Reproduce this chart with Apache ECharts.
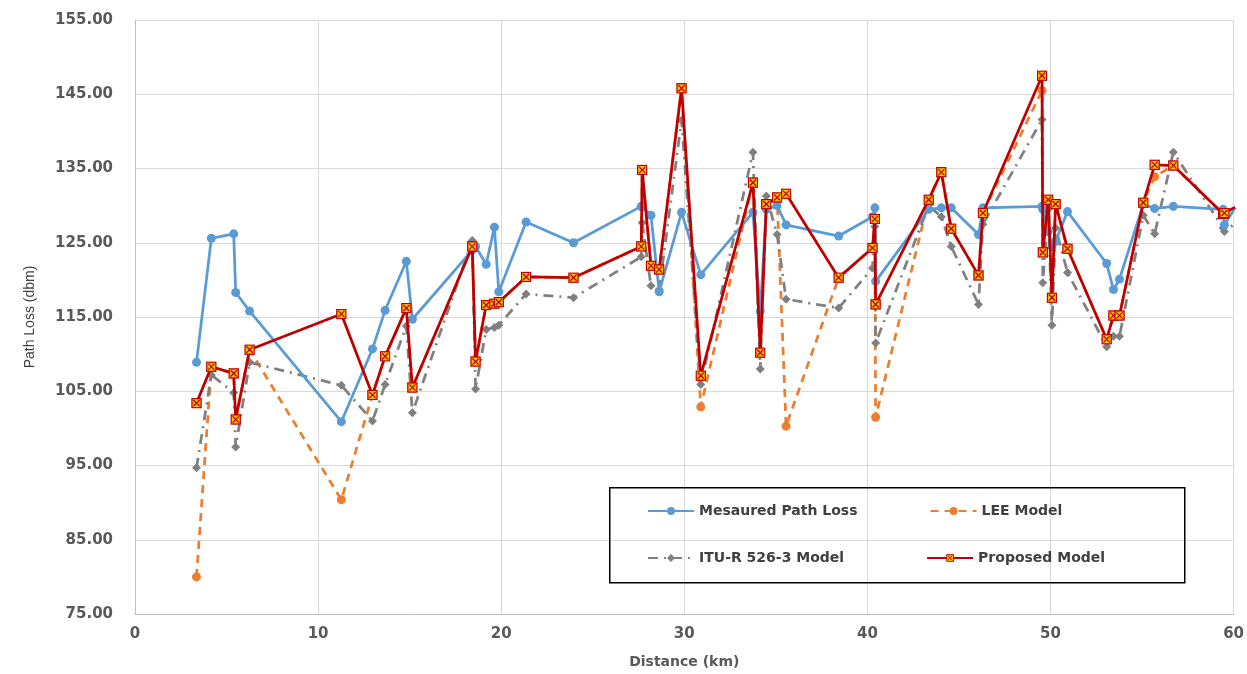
<!DOCTYPE html>
<html>
<head>
<meta charset="utf-8">
<script src="https://cdn.jsdelivr.net/npm/echarts@6/dist/echarts.min.js"></script>
<style>
html,body{margin:0;padding:0;background:#fff;}
#chart{width:1247px;height:674px;}
</style>
</head>
<body>
<div id="chart"></div>
<script>
// Distances (km) shared by all series
const distances = [3.36, 4.17, 5.39, 5.50, 6.26, 11.27, 12.97, 13.66, 14.82, 15.15,
  18.42, 18.60, 19.18, 19.63, 19.87, 21.36, 23.95, 27.65, 27.70, 28.18,
  28.63, 29.85, 30.90, 33.75, 34.15, 34.48, 35.07, 35.56, 38.43, 40.28,
  40.41, 40.45, 43.35, 44.04, 44.58, 46.07, 46.31, 49.54, 49.58, 49.88,
  50.08, 50.28, 50.93, 53.07, 53.44, 53.77, 55.07, 55.69, 56.71, 59.43,
  59.50, 60.08];

const measured = [108.9, 125.6, 126.2, 118.3, 115.8, 100.9, 110.7, 115.9, 122.5, 114.7,
  124.0, 124.5, 122.1, 127.1, 118.4, 127.8, 125.0, 129.9, 129.8, 128.7,
  118.4, 129.1, 120.7, 129.1, 115.8, 129.5, 130.0, 127.4, 125.9, 128.5,
  129.7, 119.8, 129.5, 129.7, 129.7, 126.1, 129.7, 129.9, 129.5, 126.5,
  124.5, 125.2, 129.2, 122.2, 118.7, 120.1, 130.2, 129.6, 129.9, 129.5,
  127.4, 129.7];

const lee = [80.0, 108.3, 107.4, 101.2, 110.6, 90.4, 104.5, 109.7, 116.2, 105.5,
  124.5, 109.0, 116.6, 116.8, 117.0, 120.4, 120.3, 124.5, 134.8, 121.9,
  121.4, 145.8, 102.9, 133.1, 110.2, 130.2, 131.1, 100.3, 120.3, 124.3,
  128.2, 101.5, 130.8, 134.5, 126.9, 120.6, 129.0, 145.5, 123.7, 130.8,
  117.6, 130.2, 124.2, 112.0, 115.2, 115.2, 130.4, 133.9, 135.4, 128.9,
  129.0, 129.8];

const itu = [94.7, 107.2, 104.8, 97.5, 108.9, 105.8, 101.0, 105.9, 113.8, 102.1,
  125.3, 105.3, 113.3, 113.6, 113.9, 118.1, 117.6, 123.1, 127.7, 119.2,
  118.7, 141.5, 105.9, 137.2, 108.0, 131.3, 126.1, 117.4, 116.2, 121.6,
  127.2, 111.5, 130.0, 128.5, 124.5, 116.7, 127.5, 141.6, 119.6, 129.5,
  113.9, 127.0, 121.0, 111.0, 112.4, 112.4, 128.7, 126.2, 137.2, 127.0,
  126.5, 127.6];

const proposed = [103.4, 108.3, 107.4, 101.2, 110.6, 115.4, 104.5, 109.7, 116.2, 105.5,
  124.5, 109.0, 116.6, 116.8, 117.0, 120.4, 120.3, 124.5, 134.8, 121.9,
  121.4, 145.8, 107.1, 133.1, 110.2, 130.2, 131.1, 131.6, 120.3, 124.3,
  128.2, 116.7, 130.8, 134.5, 126.9, 120.6, 129.0, 147.5, 123.7, 130.8,
  117.6, 130.2, 124.2, 112.0, 115.2, 115.2, 130.4, 135.5, 135.4, 128.9,
  129.0, 129.8];

const seriesNames = ['Mesaured Path Loss', 'LEE Model', 'ITU-R 526-3 Model', 'Proposed Model'];
const xTicks = {min: 0, max: 60, interval: 10};
const yTicks = {min: 75, max: 155, interval: 10};

const zip = vals => distances.map((d, i) => [d, vals[i]]);

const markerSvg = '<svg xmlns="http://www.w3.org/2000/svg" width="12" height="12">' +
  '<rect x="1" y="1" width="10" height="10" fill="#FFC000" stroke="#C00000" stroke-width="1.4"/>' +
  '<path d="M2.6 2.6L9.4 9.4M9.4 2.6L2.6 9.4" stroke="#C00000" stroke-width="1.4"/></svg>';
const markerSymbol = 'image://data:image/svg+xml;charset=utf-8,' + encodeURIComponent(markerSvg);

const labelFont = {fontFamily: 'DejaVu Sans', fontWeight: 'bold', fontSize: 15, color: '#595959'};
const legendText = {fontFamily: 'DejaVu Sans', fontWeight: 'bold', fontSize: 14, color: '#404040'};

const chart = echarts.init(document.getElementById('chart'), null, {renderer: 'canvas'});
chart.setOption({
  animation: false,
  backgroundColor: '#ffffff',
  grid: {left: 135, right: 10, top: 20, bottom: 59, containLabel: false},
  xAxis: {
    type: 'value', min: xTicks.min, max: xTicks.max, interval: xTicks.interval,
    name: 'Distance (km)', nameLocation: 'middle', nameGap: 41,
    nameTextStyle: {fontFamily: 'DejaVu Sans', fontWeight: 'bold', fontSize: 14, color: '#595959'},
    axisLine: {show: true, lineStyle: {color: '#bfbfbf', width: 1}},
    axisTick: {show: false},
    axisLabel: Object.assign({margin: 13}, labelFont),
    splitLine: {show: true, lineStyle: {color: '#d9d9d9', width: 1}}
  },
  yAxis: {
    type: 'value', min: yTicks.min, max: yTicks.max, interval: yTicks.interval,
    name: 'Path Loss (dbm)', nameLocation: 'middle', nameGap: 98, nameRotate: 90,
    nameTextStyle: {fontFamily: 'Liberation Sans Narrow, Liberation Sans', fontSize: 14, color: '#404040'},
    axisLine: {show: true, lineStyle: {color: '#bfbfbf', width: 1}},
    axisTick: {show: false},
    axisLabel: Object.assign({margin: 22, formatter: v => v.toFixed(2)}, labelFont),
    splitLine: {show: true, lineStyle: {color: '#d9d9d9', width: 1}}
  },
  legend: [
    {data: [seriesNames[0], seriesNames[1]], left: 647, top: 504, orient: 'horizontal',
     itemWidth: 46, itemHeight: 10, itemGap: 72, padding: 0, textStyle: legendText},
    {data: [seriesNames[2], seriesNames[3]], left: 647, top: 551, orient: 'horizontal',
     itemWidth: 46, itemHeight: 10, itemGap: 82, padding: 0, textStyle: legendText}
  ],
  graphic: [{
    type: 'rect', left: 609, top: 487, z: 100,
    shape: {width: 575, height: 95},
    style: {fill: 'transparent', stroke: '#000000', lineWidth: 1.5}
  }],
  series: [
    {name: seriesNames[0], type: 'line', data: zip(measured), z: 3,
     symbol: 'circle', symbolSize: 9, showAllSymbol: true,
     lineStyle: {color: '#5B9BD5', width: 2.75},
     itemStyle: {color: '#5B9BD5'}},
    {name: seriesNames[1], type: 'line', data: zip(lee), z: 2,
     symbol: 'circle', symbolSize: 9, showAllSymbol: true,
     lineStyle: {color: '#ED7D31', width: 2.75, type: [8, 6]},
     itemStyle: {color: '#ED7D31'}},
    {name: seriesNames[2], type: 'line', data: zip(itu), z: 2,
     symbol: 'diamond', symbolSize: 9, showAllSymbol: true,
     lineStyle: {color: '#808080', width: 2.75, type: [10, 6, 2, 6]},
     itemStyle: {color: '#808080'}},
    {name: seriesNames[3], type: 'line', data: zip(proposed), z: 4,
     symbol: markerSymbol, symbolSize: 11, showAllSymbol: true,
     lineStyle: {color: '#C00000', width: 2.75},
     itemStyle: {color: '#C00000'}}
  ]
});
</script>
</body>
</html>
